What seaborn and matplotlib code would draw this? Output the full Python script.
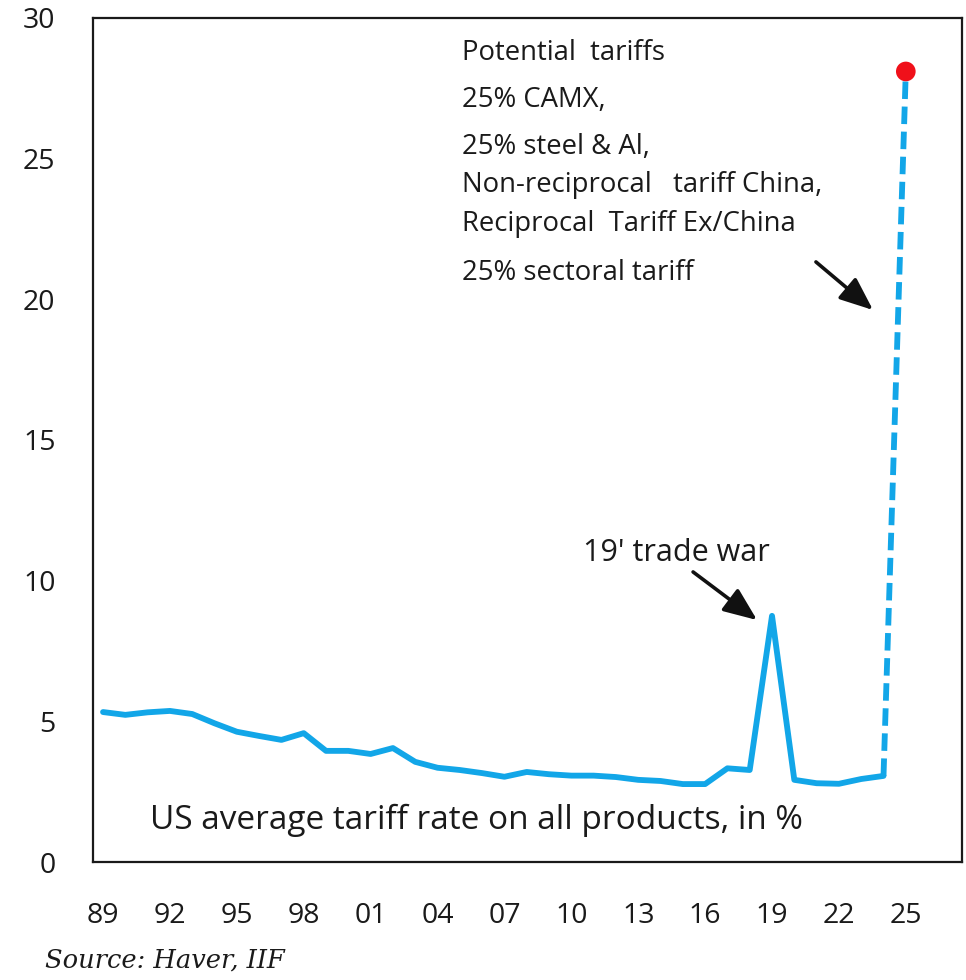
import pandas as pd
import matplotlib
matplotlib.use("Agg")
import matplotlib.pyplot as plt
import seaborn as sns

# US average tariff rate on all products, % (annual)
YEARS = list(range(1989, 2025))
RATES = [5.33, 5.23, 5.32, 5.37, 5.26, 4.93, 4.63, 4.48, 4.34, 4.58,
         3.95, 3.95, 3.84, 4.05, 3.56, 3.35, 3.27, 3.16, 3.03, 3.20,
         3.12, 3.07, 3.07, 3.02, 2.92, 2.88, 2.77, 2.77, 3.33, 3.27,
         8.75, 2.92, 2.80, 2.78, 2.95, 3.06]

# potential tariffs scenario
PROJ_YEARS = [2024, 2025]
PROJ_RATES = [3.06, 28.1]

YTICKS = [0, 5, 10, 15, 20, 25, 30]
XTICK_YEARS = list(range(1989, 2026, 3))
XTICK_LABELS = ['89', '92', '95', '98', '01', '04', '07', '10', '13', '16', '19', '22', '25']

NOTE_LINES = ['Potential  tariffs', '25% CAMX,', '25% steel & Al,',
              'Non-reciprocal   tariff China,', 'Reciprocal  Tariff Ex/China',
              '25% sectoral tariff']

LINE_COLOR = '#12A6E8'


def setup_style():
    sns.set_theme(style="white")
    plt.rcParams.update({
        "font.family": ["Open Sans", "DejaVu Sans"],
        "axes.edgecolor": "#1a1a1a",
        "axes.linewidth": 1.6,
        "text.color": "#1a1a1a",
        "xtick.color": "#1a1a1a",
        "ytick.color": "#1a1a1a",
    })


def main():
    setup_style()
    hist_df = pd.DataFrame({'year': YEARS, 'rate': RATES})
    proj_df = pd.DataFrame({'year': PROJ_YEARS, 'rate': PROJ_RATES})

    fig = plt.figure(figsize=(9.66, 9.80), dpi=100)
    ax = fig.add_axes([93 / 966, 1 - 862 / 980, 869 / 966, 844 / 980])

    sns.lineplot(data=hist_df, x='year', y='rate', color=LINE_COLOR, lw=4.2, ax=ax)
    sns.lineplot(data=proj_df, x='year', y='rate', color=LINE_COLOR, lw=4.2,
                 linestyle=(0, (3.0, 1.3)), ax=ax)
    sns.scatterplot(x=[PROJ_YEARS[-1]], y=[PROJ_RATES[-1]], color='#F0101A',
                    s=200, edgecolor='none', zorder=5, ax=ax)

    ax.set_xlim(1988.55, 2027.52)
    ax.set_ylim(0, 30)
    ax.set_yticks(YTICKS)
    ax.set_xticks(XTICK_YEARS)
    ax.set_xticklabels(XTICK_LABELS)
    ax.tick_params(axis='both', length=0, labelsize=20.5)
    ax.tick_params(axis='y', pad=27)
    ax.tick_params(axis='x', pad=29)
    ax.set_xlabel('')
    ax.set_ylabel('')
    for sp in ax.spines.values():
        sp.set_visible(True)

    arrow = dict(arrowstyle='-|>,head_length=1.7,head_width=0.7',
                 color='#111111', lw=2.6, shrinkA=0, shrinkB=0)

    # annotations
    note_y = [28.74, 27.09, 25.42, 24.06, 22.67, 20.94]
    for txt, yy in zip(NOTE_LINES, note_y):
        ax.text(2005.1, yy, txt, fontsize=19.8, va='center', ha='left')
    ax.annotate('', xy=(2023.53, 19.62), xytext=(2020.97, 21.33), arrowprops=arrow)

    ax.text(2010.52, 10.98, "19' trade war", fontsize=22, va='center', ha='left')
    ax.annotate('', xy=(2018.33, 8.60), xytext=(2015.46, 10.31), arrowprops=arrow)

    ax.text(1991.1, 1.49, 'US average tariff rate on all products, in %',
            fontsize=24, va='center', ha='left')

    fig.text(45 / 966, 1 - 960 / 980, 'Source: Haver, IIF', fontsize=18.5,
             family=['DejaVu Serif'], style='italic', va='center', ha='left')

    fig.savefig('out.png', dpi=100)
    plt.close(fig)


if __name__ == '__main__':
    main()
